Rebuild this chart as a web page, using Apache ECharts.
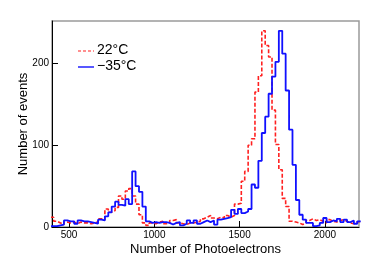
<!DOCTYPE html>
<html><head><meta charset="utf-8">
<script src="https://cdn.jsdelivr.net/npm/echarts@6/dist/echarts.min.js"></script>
<style>html,body{margin:0;padding:0;background:#fff}#c{width:374px;height:268px}</style>
</head><body><div id="c"></div>
<script>
// bin left edges (width 20)
var binStart = 390, binWidth = 20;
var seriesNames = ['22°C', '\u221235°C'];
var xTicks = [500, 1000, 1500, 2000];
var yTicks = [0, 100, 200];
// 22°C (red dashed), bins starting at 390, 410, ...
var warm = [12,7,5,3,6,5,6,4,6,5,5,4,5,6,10,9,22,18,20,24,38,34,44,47,38,28,15,5,2,5,
  4,6,7,4,5,8,9,5,4,3,5,5,6,7,10,12,14,11,10,12,11,14,12,14,28,29,56,68,100,108,
  165,185,240,222,208,143,101,70,35,25,7,6,5,3,5,8,10,8,9,7,5,9,7,6,8,9,7,5,4,6,7];
// −35°C (blue solid)
var cold = [1,1,2,3,8,7,7,4,8,7,7,6,5,4,9,8,13,18,25,31,27,26,34,28,68,50,43,25,7,5,
  6,5,6,6,5,3,5,6,2,4,8,5,8,4,6,8,6,8,3,9,10,11,12,21,16,22,17,19,22,52,
  48,81,115,135,163,184,202,240,212,167,119,76,33,15,9,5,5,1,2,5,11,6,8,7,10,6,9,6,8,4,7];

function toSteps(vals){
  var d = [];
  for (var i = 0; i < vals.length; i++) d.push([binStart + i*binWidth, vals[i]]);
  d.push([binStart + vals.length*binWidth, vals[vals.length-1]]);
  return d;
}
var font = 'Liberation Sans, Arial, Helvetica, sans-serif';
var chart = echarts.init(document.getElementById('c'), null, {renderer:'canvas'});
chart.setOption({
  animation: false,
  grid: {left: 52, right: 15, top: 21, bottom: 41, containLabel: false, outerBoundsMode: 'none',
    show: true, borderColor: '#9a9a9a', borderWidth: 1.5, backgroundColor: 'transparent'},
  xAxis: {
    type: 'value', min: 400, max: 2200,
    name: 'Number of Photoelectrons', nameLocation: 'middle', nameGap: 16, nameMoveOverlap: false,
    nameTextStyle: {fontFamily: font, fontSize: 13, color: '#000'},
    axisLine: {show: true, onZero: false, lineStyle: {color: '#000', width: 1}},
    axisTick: {show: true, inside: true, length: 6, customValues: xTicks, lineStyle: {color: '#000'}},
    axisLabel: {fontFamily: font, fontSize: 10, color: '#000', margin: 3, customValues: xTicks,
      formatter: function(v){ return String(v); }},
    splitLine: {show: false}
  },
  yAxis: {
    type: 'value', min: 0, max: 252,
    name: 'Number of events', nameLocation: 'middle', nameGap: 22, nameRotate: 90, nameMoveOverlap: false,
    nameTextStyle: {fontFamily: font, fontSize: 13, color: '#000'},
    axisLine: {show: true, lineStyle: {color: '#000', width: 1}},
    axisTick: {show: true, inside: true, length: 6, customValues: yTicks, lineStyle: {color: '#000'}},
    axisLabel: {fontFamily: font, fontSize: 10, color: '#000', margin: 3, customValues: yTicks,
      formatter: function(v){ return String(v); }},
    splitLine: {show: false}
  },
  series: [
    {name: seriesNames[0], type: 'line', step: 'end', data: toSteps(warm), showSymbol: false, symbol: 'none',
     clip: true, lineStyle: {color: '#ff2020', width: 1.6, type: [4, 2]}, z: 2},
    {name: seriesNames[1], type: 'line', step: 'end', data: toSteps(cold), showSymbol: false, symbol: 'none',
     clip: true, lineStyle: {color: '#1010ff', width: 1.8}, z: 3}
  ],
  graphic: [
    {type: 'line', shape: {x1: 78, y1: 51, x2: 94, y2: 51}, style: {stroke: '#ff2020', lineWidth: 1.2, lineDash: [3, 2]}},
    {type: 'text', left: 97, top: 43, style: {text: seriesNames[0], fontFamily: font, fontSize: 14, fill: '#000'}},
    {type: 'line', shape: {x1: 78, y1: 67, x2: 94, y2: 67}, style: {stroke: '#1010ff', lineWidth: 1.4}},
    {type: 'text', left: 97, top: 59, style: {text: seriesNames[1], fontFamily: font, fontSize: 14, fill: '#000'}}
  ]
});
</script></body></html>
